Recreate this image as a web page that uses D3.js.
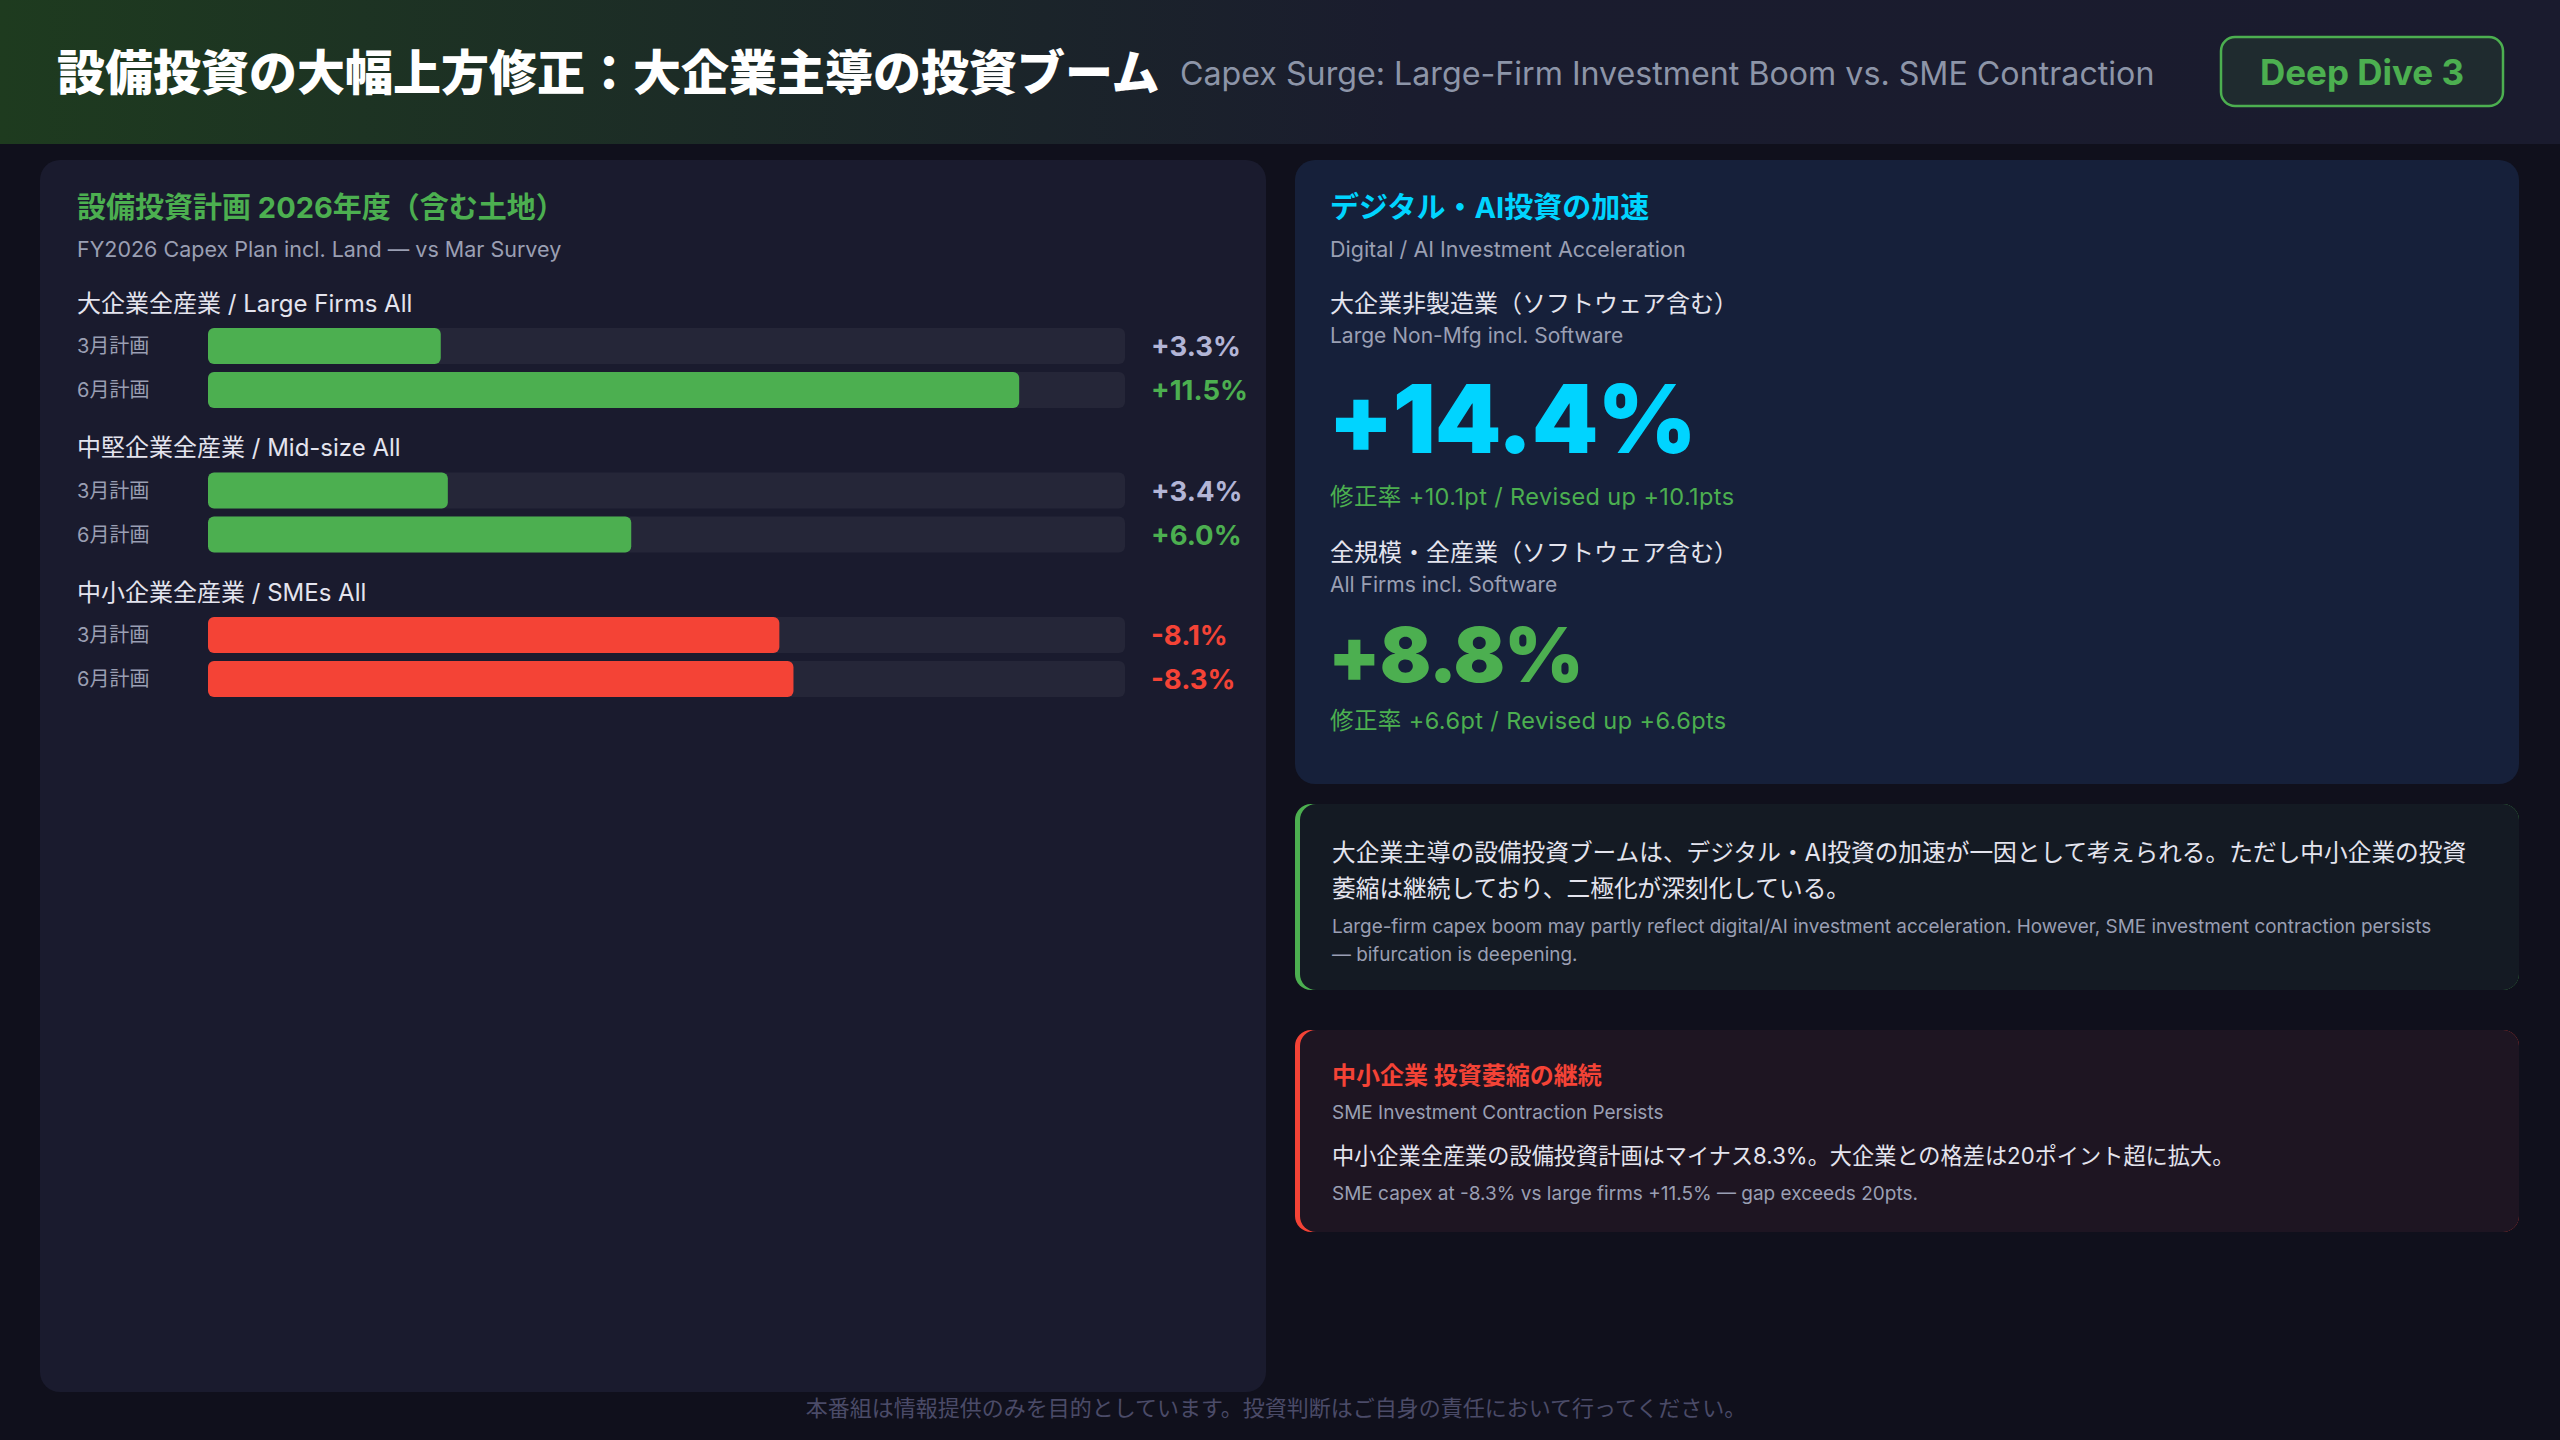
<!DOCTYPE html>
<html>
<head>
<meta charset="utf-8">
<script src="https://cdn.jsdelivr.net/npm/d3@7"></script>
<style>
  body { margin: 0; background: #10101c; }
  svg text { font-family: "Inter", "Noto Sans CJK JP", sans-serif; }
</style>
</head>
<body>
<div id="chart"></div>
<script>

// chart data
var groupNames = ["大企業全産業 / Large Firms All", "中堅企業全産業 / Mid-size All", "中小企業全産業 / SMEs All"];
var planNames = ["3月計画", "6月計画"];
var marchPlan = [3.3, 3.4, -8.1];
var junePlan = [11.5, 6.0, -8.3];

// highlight numbers on the right
var aiLabels = ["大企業非製造業（ソフトウェア含む）", "全規模・全産業（ソフトウェア含む）"];
var aiLabelsEn = ["Large Non-Mfg incl. Software", "All Firms incl. Software"];
var aiValues = [14.4, 8.8];
var aiRevisions = [10.1, 6.6];

var width = 2560;
var height = 1440;

var green = "#4caf50";
var red = "#f44336";
var cyan = "#00d4ff";
var grey = "#9a9fb3";
var light = "#e4e4ee";

var svg = d3.select("#chart")
  .append("svg")
  .attr("width", width)
  .attr("height", height);

var defs = svg.append("defs");

// header gradient
var grad = defs.append("linearGradient")
  .attr("id", "headGrad")
  .attr("x1", "0%").attr("x2", "100%");
grad.append("stop").attr("offset", "0%").attr("stop-color", "#1e3b1f");
grad.append("stop").attr("offset", "55%").attr("stop-color", "#1a1c2e");
grad.append("stop").attr("offset", "100%").attr("stop-color", "#1a1b2e");

svg.append("rect")
  .attr("width", width)
  .attr("height", height)
  .style("fill", "#10101c");

svg.append("rect")
  .attr("width", width)
  .attr("height", 144)
  .style("fill", "url(#headGrad)");

// header texts
svg.append("text")
  .attr("x", 57)
  .attr("y", 72)
  .attr("dominant-baseline", "central")
  .style("font-size", "48px")
  .style("font-weight", 900)
  .style("fill", "#ffffff")
  .text("設備投資の大幅上方修正：大企業主導の投資ブーム");

svg.append("text")
  .attr("x", 1180)
  .attr("y", 73)
  .attr("dominant-baseline", "central")
  .style("font-size", "32.2px")
  .style("fill", "#8d95a8")
  .text("Capex Surge: Large-Firm Investment Boom vs. SME Contraction");

svg.append("rect")
  .attr("x", 2221)
  .attr("y", 37)
  .attr("width", 282)
  .attr("height", 69)
  .attr("rx", 14)
  .style("fill", "#1f2b2f")
  .style("stroke", green)
  .style("stroke-width", 2.5);

svg.append("text")
  .attr("x", 2362)
  .attr("y", 72)
  .attr("text-anchor", "middle")
  .attr("dominant-baseline", "central")
  .style("font-size", "35px")
  .style("font-weight", 700)
  .style("fill", green)
  .text("Deep Dive 3");

// left panel
svg.append("rect")
  .attr("x", 40)
  .attr("y", 160)
  .attr("width", 1226)
  .attr("height", 1232)
  .attr("rx", 20)
  .style("fill", "#1a1b2e");

svg.append("text")
  .attr("x", 77)
  .attr("y", 207)
  .attr("dominant-baseline", "central")
  .style("font-size", "29px")
  .style("font-weight", 700)
  .style("fill", green)
  .text("設備投資計画 2026年度（含む土地）");

svg.append("text")
  .attr("x", 77)
  .attr("y", 249)
  .attr("dominant-baseline", "central")
  .style("font-size", "21.5px")
  .style("fill", grey)
  .text("FY2026 Capex Plan incl. Land — vs Mar Survey");

// scale for the bars, absolute size of the change
var xScale = d3.scaleLinear()
  .domain([0, 13])
  .range([208, 1125]);

var groupStep = 144.5;
var barHeight = 36;
var barGap = 8;

var rows = [];
groupNames.forEach(function(g, i) {
  rows.push({group: i, plan: 0, value: marchPlan[i]});
  rows.push({group: i, plan: 1, value: junePlan[i]});
});

function rowTop(d) {
  return 328 + d.group * groupStep + d.plan * (barHeight + barGap);
}

function valueColor(d) {
  if (d.value < 0) return red;
  if (d.plan == 1) return green;
  return "#b3b5d6";
}

// group labels
svg.selectAll("groupLabels")
  .data(groupNames)
  .enter()
  .append("text")
  .attr("x", 77)
  .attr("y", function(d, i) { return 303 + i * groupStep; })
  .attr("dominant-baseline", "central")
  .style("font-size", "24px")
  .style("fill", light)
  .text(function(d) { return d; });

// plan labels
svg.selectAll("planLabels")
  .data(rows)
  .enter()
  .append("text")
  .attr("x", 77)
  .attr("y", function(d) { return rowTop(d) + barHeight / 2; })
  .attr("dominant-baseline", "central")
  .style("font-size", "20px")
  .style("fill", grey)
  .text(function(d) { return planNames[d.plan]; });

// bar tracks
svg.selectAll("tracks")
  .data(rows)
  .enter()
  .append("rect")
  .attr("x", xScale(0))
  .attr("y", rowTop)
  .attr("width", xScale(13) - xScale(0))
  .attr("height", barHeight)
  .attr("rx", 6)
  .style("fill", "#252638");

// bars
svg.selectAll("bars")
  .data(rows)
  .enter()
  .append("rect")
  .attr("x", xScale(0))
  .attr("y", rowTop)
  .attr("width", function(d) { return xScale(Math.abs(d.value)) - xScale(0); })
  .attr("height", barHeight)
  .attr("rx", 6)
  .style("fill", function(d) { return d.value < 0 ? red : green; });

// value labels
svg.selectAll("values")
  .data(rows)
  .enter()
  .append("text")
  .attr("x", 1151)
  .attr("y", function(d) { return rowTop(d) + barHeight / 2; })
  .attr("dominant-baseline", "central")
  .style("font-size", "27.5px")
  .style("font-weight", 700)
  .style("fill", valueColor)
  .text(function(d) { return (d.value > 0 ? "+" : "") + d.value.toFixed(1) + "%"; });

// right top card
svg.append("rect")
  .attr("x", 1295)
  .attr("y", 160)
  .attr("width", 1224)
  .attr("height", 624)
  .attr("rx", 20)
  .style("fill", "#16203a");

svg.append("text")
  .attr("x", 1330)
  .attr("y", 207)
  .attr("dominant-baseline", "central")
  .style("font-size", "29px")
  .style("font-weight", 700)
  .style("fill", cyan)
  .text("デジタル・AI投資の加速");

svg.append("text")
  .attr("x", 1330)
  .attr("y", 249)
  .attr("dominant-baseline", "central")
  .style("font-size", "21.5px")
  .style("fill", grey)
  .text("Digital / AI Investment Acceleration");

var blockTop = [303, 552];
var bigY = [418, 654];
var bigSize = [95, 76];
var bigColor = [cyan, green];
var revY = [496, 720];

svg.selectAll("aiLabels")
  .data(aiLabels)
  .enter()
  .append("text")
  .attr("x", 1330)
  .attr("y", function(d, i) { return blockTop[i]; })
  .attr("dominant-baseline", "central")
  .style("font-size", "24px")
  .style("fill", light)
  .text(function(d) { return d; });

svg.selectAll("aiLabelsEn")
  .data(aiLabelsEn)
  .enter()
  .append("text")
  .attr("x", 1330)
  .attr("y", function(d, i) { return blockTop[i] + 32; })
  .attr("dominant-baseline", "central")
  .style("font-size", "21px")
  .style("fill", grey)
  .text(function(d) { return d; });

svg.selectAll("aiValues")
  .data(aiValues)
  .enter()
  .append("text")
  .attr("x", 1328)
  .attr("y", function(d, i) { return bigY[i]; })
  .attr("dominant-baseline", "central")
  .style("font-size", function(d, i) { return bigSize[i] + "px"; })
  .style("font-weight", 900)
  .style("letter-spacing", "-1px")
  .style("fill", function(d, i) { return bigColor[i]; })
  .text(function(d) { return "+" + d.toFixed(1) + "%"; });

svg.selectAll("aiRevisions")
  .data(aiRevisions)
  .enter()
  .append("text")
  .attr("x", 1330)
  .attr("y", function(d, i) { return revY[i]; })
  .attr("dominant-baseline", "central")
  .style("font-size", "23.5px")
  .style("letter-spacing", "0.4px")
  .style("fill", green)
  .text(function(d) { return "修正率 +" + d.toFixed(1) + "pt / Revised up +" + d.toFixed(1) + "pts"; });

// note cards with a coloured left border
function noteCard(y, h, border, fill) {
  svg.append("rect")
    .attr("x", 1295)
    .attr("y", y)
    .attr("width", 1224)
    .attr("height", h)
    .attr("rx", 16)
    .style("fill", border);
  svg.append("rect")
    .attr("x", 1300)
    .attr("y", y)
    .attr("width", 1219)
    .attr("height", h)
    .attr("rx", 16)
    .style("fill", fill);
}

noteCard(804, 186, green, "#141a23");
noteCard(1030, 202, red, "#1e1522");

function addLine(y, txt, size, color, weight) {
  svg.append("text")
    .attr("x", 1332)
    .attr("y", y)
    .attr("dominant-baseline", "central")
    .style("font-size", size + "px")
    .style("font-weight", weight || 400)
    .style("fill", color)
    .text(txt);
}

addLine(852, "大企業主導の設備投資ブームは、デジタル・AI投資の加速が一因として考えられる。ただし中小企業の投資", 23.7, light);
addLine(888, "萎縮は継続しており、二極化が深刻化している。", 23.7, light);
addLine(926, "Large-firm capex boom may partly reflect digital/AI investment acceleration. However, SME investment contraction persists", 18.9, grey);
addLine(954, "— bifurcation is deepening.", 18.9, grey);

addLine(1075, "中小企業 投資萎縮の継続", 24, red, 700);
addLine(1112, "SME Investment Contraction Persists", 19, grey);
addLine(1155, "中小企業全産業の設備投資計画はマイナス" + Math.abs(junePlan[2]).toFixed(1) + "%。大企業との格差は20ポイント超に拡大。", 22.2, light);
addLine(1193, "SME capex at " + junePlan[2].toFixed(1) + "% vs large firms +" + junePlan[0].toFixed(1) + "% — gap exceeds 20pts.", 19, grey);

// footer
svg.append("text")
  .attr("x", 1276)
  .attr("y", 1408)
  .attr("text-anchor", "middle")
  .attr("dominant-baseline", "central")
  .style("font-size", "22px")
  .style("fill", "#4b4b68")
  .text("本番組は情報提供のみを目的としています。投資判断はご自身の責任において行ってください。");

</script>
</body>
</html>
